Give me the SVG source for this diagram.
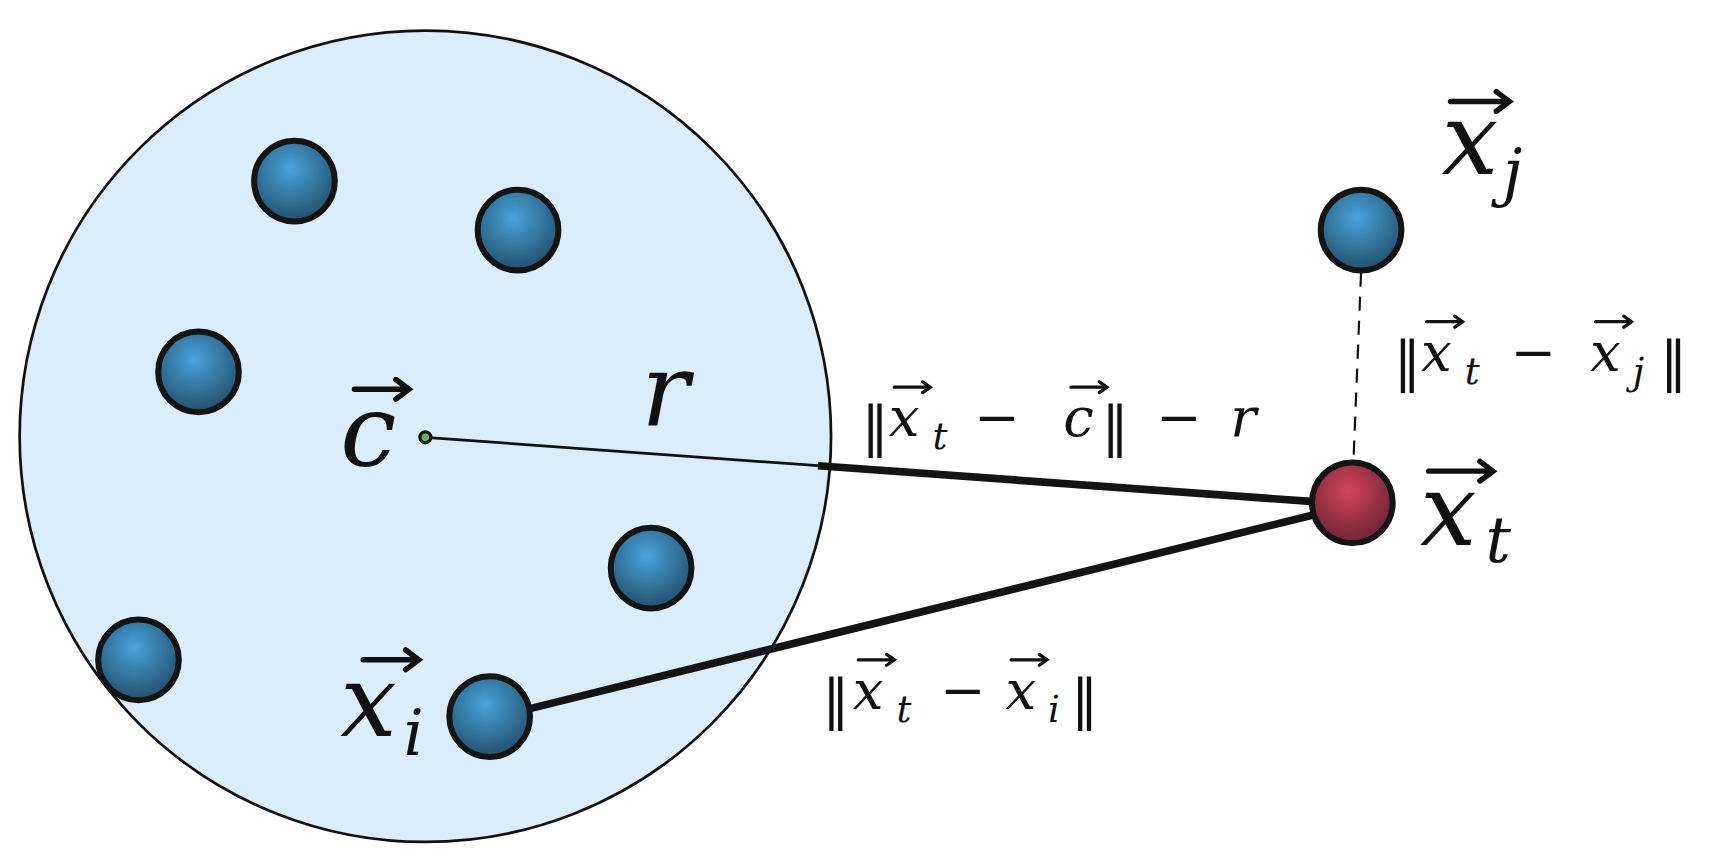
<svg xmlns="http://www.w3.org/2000/svg" width="1710" height="860" viewBox="0 0 1710 860">
<style>
.m{font-family:"DejaVu Serif","Liberation Serif",serif;font-style:italic;fill:#111}
.n{font-family:"DejaVu Serif","Liberation Serif",serif;fill:#111}
.big{font-size:92px}.sub{font-size:58px}.s{font-size:50px}.ss{font-size:34px}
.ball{stroke:#141414;stroke-width:5.5}
.arr{stroke:#111;fill:none;stroke-linecap:round}
</style>
<defs>
<radialGradient id="gb" cx="0.45" cy="0.35" r="0.7"><stop offset="0" stop-color="#4aa3dc"/><stop offset="1" stop-color="#1f4a66"/></radialGradient>
<radialGradient id="gr" cx="0.45" cy="0.35" r="0.7"><stop offset="0" stop-color="#d2445e"/><stop offset="1" stop-color="#66202f"/></radialGradient>
</defs>
<rect width="1710" height="860" fill="#fff"/>
<g transform="scale(1.0906)">
<g id="region"><circle cx="390" cy="400" r="372" fill="#dbecfa" stroke="#111" stroke-width="2.5"/></g>
<g id="connectors">
<line x1="390" y1="401" x2="750" y2="427" stroke="#111" stroke-width="2.5"/>
<line x1="750" y1="427" x2="1205" y2="460" stroke="#141414" stroke-width="7"/>
<line x1="485" y1="650" x2="1205" y2="472" stroke="#141414" stroke-width="7"/>
<line x1="1248" y1="250" x2="1241" y2="423" stroke="#111" stroke-width="2" stroke-dasharray="13,9"/>
</g>
<g id="n1"><circle class="ball" cx="270" cy="166" r="37" fill="url(#gb)"/></g>
<g id="n2"><circle class="ball" cx="475" cy="211" r="37" fill="url(#gb)"/></g>
<g id="n3"><circle class="ball" cx="182" cy="341" r="37" fill="url(#gb)"/></g>
<g id="n4"><circle class="ball" cx="597" cy="521" r="37" fill="url(#gb)"/></g>
<g id="n5"><circle class="ball" cx="127" cy="605" r="37" fill="url(#gb)"/></g>
<g id="xi"><circle class="ball" cx="449" cy="657" r="37" fill="url(#gb)"/>
<text class="m big" x="312" y="675">x</text><text class="m sub" x="370" y="692">i</text>
<path class="arr" stroke-width="5" d="M333 605H383M372 596L384 605L372 614"/></g>
<g id="xj"><circle class="ball" cx="1248" cy="211" r="37" fill="url(#gb)"/>
<text class="m big" x="1322" y="160">x</text><text class="m sub" x="1378" y="178">j</text>
<path class="arr" stroke-width="5" d="M1330 93H1383M1372 84L1384 93L1372 102"/></g>
<g id="xt"><circle class="ball" cx="1240" cy="461" r="37" style="fill:url(#gr)"/>
<text class="m big" x="1302" y="500">x</text><text class="m sub" x="1362" y="515">t</text>
<path class="arr" stroke-width="5" d="M1310 432H1368M1357 423L1369 432L1357 441"/></g>
<g id="c"><circle cx="390" cy="401" r="5" fill="#5cb85c" stroke="#111" stroke-width="3"/>
<text class="m big" x="312" y="427">c</text>
<path class="arr" stroke-width="5" d="M325 357H374M363 348L375 357L363 366"/></g>
<text class="m big" x="588" y="390">r</text>
<g id="l1">
<text class="n s" x="790" y="408">‖</text><text class="m s" x="815" y="400">x</text><text class="m ss" x="855" y="412">t</text>
<text class="n s" x="893" y="400">−</text><text class="m s" x="975" y="400">c</text><text class="n s" x="1010" y="408">‖</text>
<text class="n s" x="1060" y="400">−</text><text class="m s" x="1128" y="400">r</text>
<path class="arr" stroke-width="3" d="M820 355H852M846 350L853 355L846 360M982 355H1014M1008 350L1015 355L1008 360"/></g>
<g id="l2">
<text class="n s" x="1278" y="348">‖</text><text class="m s" x="1303" y="340">x</text><text class="m ss" x="1343" y="352">t</text>
<text class="n s" x="1385" y="340">−</text><text class="m s" x="1458" y="340">x</text><text class="m ss" x="1497" y="352">j</text><text class="n s" x="1522" y="348">‖</text>
<path class="arr" stroke-width="3" d="M1308 295H1340M1334 290L1341 295L1334 300M1463 295H1495M1489 290L1496 295L1489 300"/></g>
<g id="l3">
<text class="n s" x="754" y="658">‖</text><text class="m s" x="782" y="650">x</text><text class="m ss" x="822" y="662">t</text>
<text class="n s" x="862" y="650">−</text><text class="m s" x="922" y="650">x</text><text class="m ss" x="961" y="662">i</text><text class="n s" x="982" y="658">‖</text>
<path class="arr" stroke-width="3" d="M787 605H819M813 600L820 605L813 610M927 605H959M953 600L960 605L953 610"/></g>
</g>
</svg>
